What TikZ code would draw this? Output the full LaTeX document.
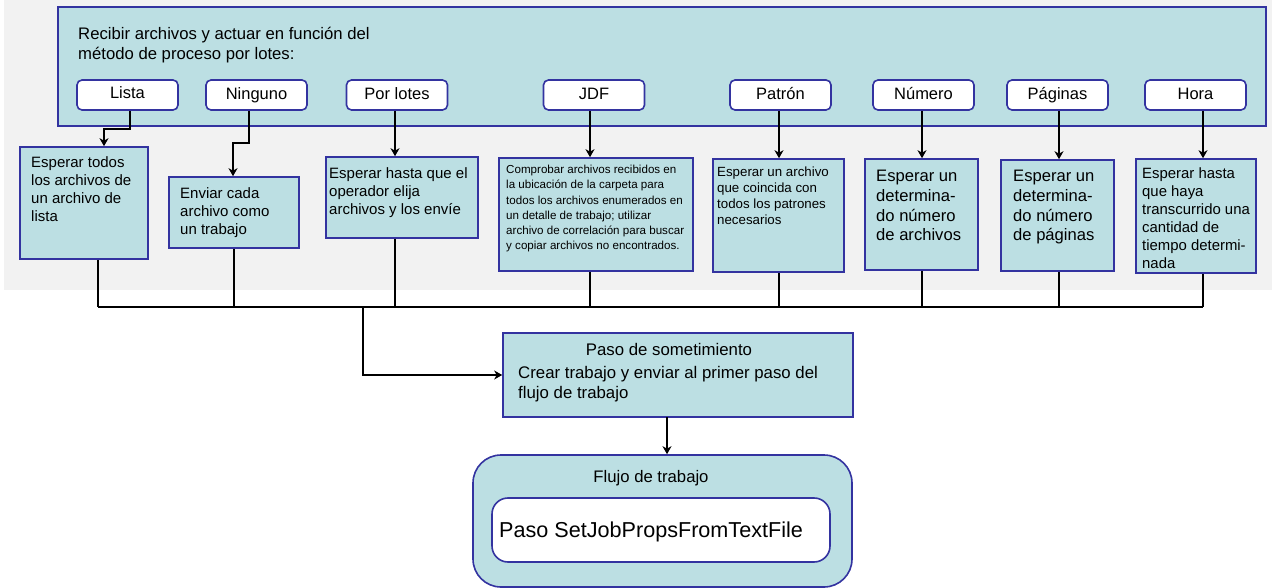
\documentclass[tikz,border=0pt]{standalone}
\usepackage{fontspec}
\setmainfont{Liberation Sans}
\usetikzlibrary{arrows.meta,calc}
\definecolor{fillb}{RGB}{188,223,227}
\definecolor{edgeb}{RGB}{51,51,160}
\definecolor{bggray}{RGB}{242,242,242}
\begin{document}
\begin{tikzpicture}[x=1pt,y=-1pt,
  blbox/.style={draw=edgeb,fill=fillb,line width=1.6pt,inner sep=0pt},
  lbl/.style={draw=edgeb,fill=white,line width=1.6pt,rounded corners=5pt,inner sep=0pt,
    minimum width=101pt,minimum height=30pt,text height=12pt,text depth=2pt,
    font=\fontsize{16.5}{20}\selectfont},
  txt/.style={anchor=north west,inner sep=0pt,align=left},
  arr/.style={line width=1.4pt,-{Stealth[length=8pt,width=9pt,inset=2.5pt]}},
  con/.style={line width=1.4pt}]
\useasboundingbox (0,0) rectangle (1272,588);
\fill[bggray] (4,0) rectangle (1272,290);

% top container
\node[blbox,minimum width=1208pt,minimum height=119pt] (top) at (662,66.5) {};
\node[txt,font=\fontsize{16.7}{20}\selectfont] (ttop) at (78,27)
  {Recibir archivos y actuar en función del\\método de proceso por lotes:};

% labels
\node[lbl] (L1) at (127.5,95) {\raisebox{1.3pt}{Lista}};
\node[lbl] (L2) at (256.5,95) {Ninguno};
\node[lbl] (L3) at (397,95) {Por lotes};
\node[lbl] (L4) at (594,95) {JDF};
\node[lbl] (L5) at (780.5,95) {Patrón};
\node[lbl] (L6) at (923.5,95) {Número};
\node[lbl] (L7) at (1057.5,95) {Páginas};
\node[lbl] (L8) at (1195.5,95) {Hora};

% boxes
\node[blbox,minimum width=128pt,minimum height=112pt] (B1) at (84,203) {};
\node[blbox,minimum width=130pt,minimum height=71pt] (B2) at (234,212.5) {};
\node[blbox,minimum width=152pt,minimum height=81pt] (B3) at (402,197.5) {};
\node[blbox,minimum width=194pt,minimum height=113pt] (B4) at (596,214.5) {};
\node[blbox,minimum width=131pt,minimum height=113pt] (B5) at (778.5,215.5) {};
\node[blbox,minimum width=113pt,minimum height=111pt] (B6) at (921.5,214.5) {};
\node[blbox,minimum width=113pt,minimum height=111pt] (B7) at (1057.5,215.5) {};
\node[blbox,minimum width=120pt,minimum height=114pt] (B8) at (1196,216) {};

\node[txt,font=\fontsize{15}{18}\selectfont] (t1) at (31,156)
  {Esperar todos\\los archivos de\\un archivo de\\lista};
\node[txt,font=\fontsize{15}{18}\selectfont] (t2) at (180,187)
  {Enviar cada\\archivo como\\un trabajo};
\node[txt,font=\fontsize{15}{18}\selectfont] (t3) at (329,167)
  {Esperar hasta que el\\operador elija\\archivos y los envíe};
\node[txt,font=\fontsize{11.6}{15.2}\selectfont] (t4) at (506,165)
  {Comprobar archivos recibidos en\\la ubicación de la carpeta para\\todos los archivos enumerados en\\un detalle de trabajo; utilizar\\archivo de correlación para buscar\\y copiar archivos no encontrados.};
\node[txt,font=\fontsize{13.3}{15.8}\selectfont] (t5) at (717,167)
  {Esperar un archivo\\que coincida con\\todos los patrones\\necesarios};
\node[txt,font=\fontsize{16.6}{19.7}\selectfont] (t6) at (876,170)
  {Esperar un\\determina-\\do número\\de archivos};
\node[txt,font=\fontsize{16.6}{19.7}\selectfont] (t7) at (1013,170)
  {Esperar un\\determina-\\do número\\de páginas};
\node[txt,font=\fontsize{14.9}{17.9}\selectfont] (t8) at (1142,168)
  {Esperar hasta\\que haya\\transcurrido una\\cantidad de\\tiempo determi-\\nada};

% submission step
\node[blbox,minimum width=350pt,minimum height=84pt] (sub) at (678,375) {};
\node[anchor=north,inner sep=0pt,font=\fontsize{16.8}{20}\selectfont] (subt) at (669,343) {Paso de sometimiento};
\node[txt,font=\fontsize{16.8}{20}\selectfont] (subx) at (518,366)
  {Crear trabajo y enviar al primer paso del\\flujo de trabajo};

% workflow
\node[blbox,rounded corners=28pt,minimum width=379pt,minimum height=132pt] (flow) at (662.5,521) {};
\node[anchor=north,inner sep=0pt,font=\fontsize{16.7}{20}\selectfont] (flowt) at (651,470) {Flujo de trabajo};
\node[draw=edgeb,fill=white,line width=1.6pt,rounded corners=16pt,inner sep=0pt,
  minimum width=338pt,minimum height=64pt] (inner) at (661,530) {};
\node[txt,font=\fontsize{21.6}{25}\selectfont] (innt) at (499,522) {Paso SetJobPropsFromTextFile};

% coordinates
\coordinate (c1) at (98,307);
\coordinate (c2) at (234,307);
\coordinate (c3) at (395,307);
\coordinate (c4) at (590,307);
\coordinate (c5) at (779,307);
\coordinate (c6) at (922,307);
\coordinate (c7) at (1059,307);
\coordinate (c8) at (1203,307);
\coordinate (bj) at (363,307);
\coordinate (k1) at (104,129);
\coordinate (k2) at (233,143);
\coordinate (k9) at (667,417);

% label arrows
\draw[arr] ([xshift=2.5pt]L1.south) |- (k1) -- (k1 |- B1.north);
\draw[arr] ([xshift=-7.5pt]L2.south) |- (k2) -- (k2 |- B2.north);
\draw[arr] (L3.south -| c3) -- (B3.north -| c3);
\draw[arr] (L4.south -| c4) -- (B4.north -| c4);
\draw[arr] (L5.south -| c5) -- (B5.north -| c5);
\draw[arr] (L6.south -| c6) -- (B6.north -| c6);
\draw[arr] (L7.south -| c7) -- (B7.north -| c7);
\draw[arr] (L8.south -| c8) -- (B8.north -| c8);

% bus
\draw[con] (B1.south -| c1) -- (c1);
\draw[con] (B2.south -| c2) -- (c2);
\draw[con] (B3.south -| c3) -- (c3);
\draw[con] (B4.south -| c4) -- (c4);
\draw[con] (B5.south -| c5) -- (c5);
\draw[con] (B6.south -| c6) -- (c6);
\draw[con] (B7.south -| c7) -- (c7);
\draw[con] (B8.south -| c8) -- (c8);
\draw[con] (c1) -- (c8);
\draw[arr] (bj) |- (sub.west);
\draw[arr] (k9) -- (k9 |- flow.north);
\end{tikzpicture}
\end{document}
